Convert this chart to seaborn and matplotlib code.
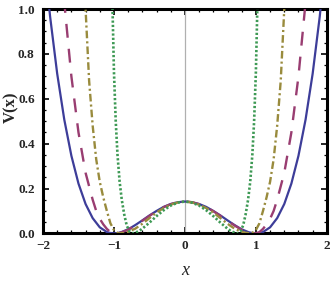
import numpy as np
import pandas as pd
import matplotlib
matplotlib.use("Agg")
import matplotlib.pyplot as plt
import seaborn as sns
from matplotlib.ticker import MultipleLocator

# values (x >= 0 half; the potentials are even in x)
x_blue = [0.0, 0.1, 0.2, 0.3, 0.4, 0.5, 0.6, 0.7, 0.8, 0.9, 0.95, 1.0, 1.05, 1.1, 1.2,
          1.3, 1.4, 1.5, 1.6, 1.7, 1.8, 1.9, 2.0]
v_blue = [0.142, 0.139, 0.131, 0.118, 0.100, 0.080, 0.058, 0.037, 0.018, 0.005, 0.0013,
          0.0, 0.0015, 0.006, 0.027, 0.068, 0.131, 0.222, 0.346, 0.507, 0.712, 0.967, 1.28]

x_purple = [0.0, 0.1, 0.2, 0.3, 0.4, 0.5, 0.6, 0.7, 0.8, 0.9, 0.95, 1.0, 1.05, 1.1, 1.15,
            1.2, 1.25, 1.3, 1.4, 1.5, 1.6, 1.7, 1.75]
v_purple = [0.142, 0.139, 0.130, 0.117, 0.099, 0.078, 0.056, 0.035, 0.016, 0.004, 0.001,
            0.0, 0.006, 0.02, 0.04, 0.065, 0.10, 0.15, 0.27, 0.45, 0.70, 1.03, 1.25]

x_olive = [0.0, 0.1, 0.2, 0.3, 0.4, 0.5, 0.6, 0.7, 0.8, 0.87, 0.94, 1.0, 1.05, 1.1, 1.15,
           1.2, 1.25, 1.3, 1.35, 1.4, 1.43]
v_olive = [0.142, 0.138, 0.128, 0.113, 0.093, 0.068, 0.043, 0.021, 0.007, 0.002, 0.0,
           0.015, 0.045, 0.10, 0.16, 0.23, 0.33, 0.48, 0.68, 1.0, 1.2]

x_green = [0.0, 0.1, 0.2, 0.3, 0.4, 0.5, 0.6, 0.65, 0.7, 0.74, 0.78, 0.82, 0.855, 0.89,
           0.92, 0.95, 0.975, 1.0, 1.02, 1.04]
v_green = [0.142, 0.137, 0.124, 0.103, 0.077, 0.048, 0.021, 0.010, 0.003, 0.0, 0.008,
           0.035, 0.084, 0.15, 0.23, 0.35, 0.50, 0.72, 1.0, 1.3]

x_ticks = [-2, -1, 0, 1, 2]
y_ticks = [0.0, 0.2, 0.4, 0.6, 0.8, 1.0]


def full_curve(xs, vs):
    xs = np.array(xs)
    vs = np.array(vs)
    return pd.DataFrame({"x": np.concatenate([-xs[:0:-1], xs]),
                         "V": np.concatenate([vs[:0:-1], vs])})


def main():
    sns.set_style("ticks")
    plt.rcParams["lines.scale_dashes"] = False
    plt.rcParams["font.family"] = ["Liberation Serif", "DejaVu Serif"]

    fig = plt.figure(figsize=(3.32, 2.91), dpi=100)
    ax = fig.add_axes([0.1295, 0.198, 0.855, 0.771])

    ax.axvline(0, color="#b0b0b0", lw=0.9, zorder=1)

    curves = [
        (x_blue, v_blue, "#3d3d99", "-", 1.6),
        (x_purple, v_purple, "#993d71", (0, (10, 8)), 1.7),
        (x_olive, v_olive, "#998b3d", (0, (5.5, 2.2, 1.5, 2.2)), 1.7),
        (x_green, v_green, "#3d9954", (0, (1.6, 1.5)), 1.9),
    ]
    for xs, vs, col, ls, lw in curves:
        df = full_curve(xs, vs)
        sns.lineplot(data=df, x="x", y="V", ax=ax, color=col, linestyle=ls,
                     lw=lw, estimator=None, sort=True, zorder=3)

    ax.set_xlim(-2, 2)
    ax.set_ylim(0, 1)
    ax.set_xticks(x_ticks)
    ax.set_yticks(y_ticks)
    ax.set_xticklabels(["\u22122", "\u22121", "0", "1", "2"])
    ax.set_yticklabels([f"{t:.1f}" for t in y_ticks])
    ax.xaxis.set_minor_locator(MultipleLocator(0.2))
    ax.yaxis.set_minor_locator(MultipleLocator(0.05))
    ax.tick_params(which="both", direction="in", top=True, right=True, color="black")
    ax.tick_params(which="major", length=4, width=1.2, labelsize=9.5)
    ax.tick_params(axis="x", which="major", pad=5)
    ax.tick_params(axis="y", which="major", pad=6)
    ax.tick_params(which="minor", length=2, width=0.9)
    for lab in ax.get_xticklabels() + ax.get_yticklabels():
        lab.set_fontweight("bold")
    for sp in ax.spines.values():
        sp.set_linewidth(2.2)
        sp.set_color("black")

    ax.set_xlabel("x", fontsize=13, fontstyle="italic", labelpad=7)
    ax.set_ylabel("V(x)", fontsize=12, fontweight="bold", va="center")
    ax.yaxis.set_label_coords(-0.112, 0.56)

    fig.savefig("out.png", dpi=100)


if __name__ == "__main__":
    main()
